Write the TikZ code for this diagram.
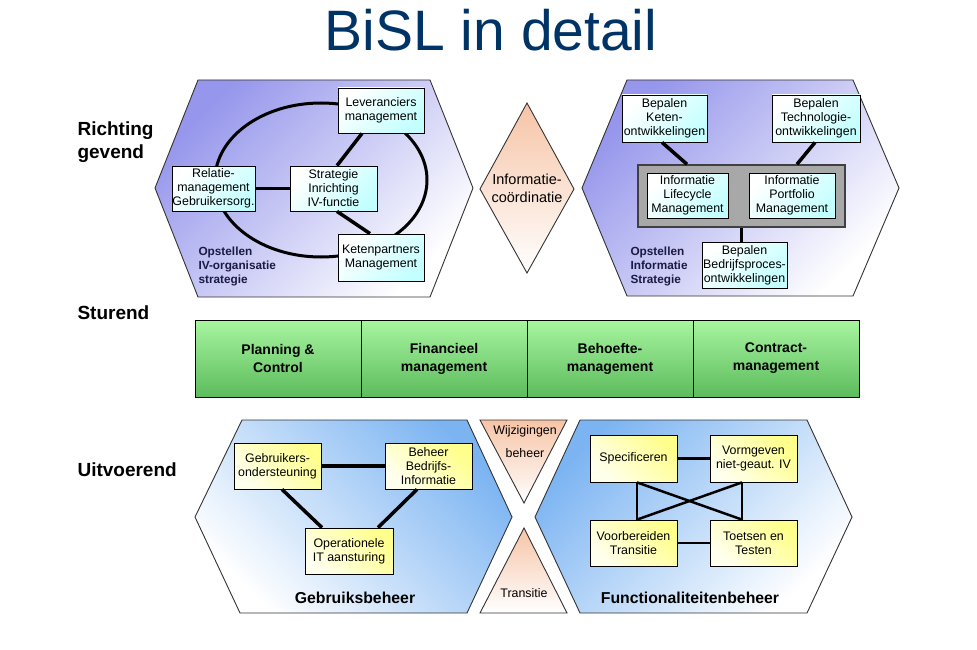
\documentclass[tikz,border=0pt]{standalone}
\usepackage{fontspec}
\setmainfont{Liberation Sans}
\usetikzlibrary{calc}
\definecolor{titleblue}{HTML}{003366}
\definecolor{lilac}{HTML}{9696EC}
\definecolor{skyblue}{HTML}{7CB4F2}
\definecolor{peach}{HTML}{F6C4A6}
\definecolor{cyanbox}{HTML}{C4FFFF}
\definecolor{yelbox}{HTML}{FFFF8C}
\definecolor{greentop}{HTML}{A8F5A0}
\definecolor{greenbot}{HTML}{5CBC5C}
\definecolor{navytext}{HTML}{1A1A44}
\definecolor{hexline}{HTML}{333333}
\definecolor{grayfill}{HTML}{A8A8A8}
\newcommand\bxfont{\fontsize{12.4}{14}\selectfont}
\tikzset{
  hexa/.style={draw=hexline, line width=0.9pt},
  wbox/.style={draw=black, line width=0.8pt, align=center, inner sep=0pt, font=\bxfont, text=black},
  cbox/.style={wbox, top color=white, bottom color=cyanbox, shading angle=45},
  ybox/.style={wbox, top color=yelbox, bottom color=yelbox!15, shading angle=-45},
  gcell/.style={draw=black, line width=0.8pt, minimum width=166pt, minimum height=77pt, inner sep=0pt,
    top color=greentop, bottom color=greenbot, align=center, font=\bfseries\fontsize{14}{18}\selectfont},
  conn/.style={line width=3.5pt, line cap=butt},
  thinconn/.style={line width=2.5pt},
  sidelbl/.style={anchor=west, align=left, font=\bfseries\fontsize{19}{23}\selectfont},
  sublbl/.style={anchor=west, align=left, text=navytext, font=\bfseries\fontsize{11.8}{14}\selectfont},
  hexlbl/.style={font=\bfseries\fontsize{15.8}{18}\selectfont}
}
\begin{document}
\begin{tikzpicture}[x=1pt, y=-1pt]
\useasboundingbox (0,0) rectangle (977,650);
\fill[white] (0,0) rectangle (977,650);

% title
\node[font=\fontsize{57}{60}\selectfont, text=titleblue, anchor=base] (title) at (491,51) {BiSL in detail};

% side labels
\node[sidelbl] (richting) at (74,142) {Richting\\gevend};
\node[sidelbl] (sturend) at (74,313) {Sturend};
\node[sidelbl] (uitvoerend) at (74,470) {Uitvoerend};

% ---------- top-left hexagon
\path[hexa, top color=lilac, bottom color=white, shading angle=45]
  (198,80) -- (430,80) -- (473,188) -- (430,297) -- (198,297) -- (155,188) -- cycle;
\draw[line width=3pt] (321,180) ellipse [x radius=106, y radius=77];
\node[cbox, minimum width=86pt, minimum height=45pt] (lev) at (381,110.5) {Leveranciers\\management};
\node[cbox, minimum width=83pt, minimum height=45pt] (rel) at (213.5,188.5) {Relatie-\\management\\Gebruikersorg.};
\node[cbox, minimum width=87pt, minimum height=45pt] (str) at (333.5,188.5) {Strategie\\Inrichting\\IV-functie};
\node[cbox, minimum width=86pt, minimum height=47pt] (ket) at (381,257.5) {Ketenpartners\\Management};
\draw[conn] (rel.east) -- (str.west);
\draw[conn] ([xshift=3.5pt]str.north) -- ([xshift=-19pt]lev.south);
\draw[conn] ([xshift=3.5pt]str.south) -- ([xshift=-11pt]ket.north);
\node[sublbl] (opiv) at (195,266) {Opstellen\\IV-organisatie\\strategie};

% ---------- diamond
\path[hexa, top color=peach, bottom color=white] (527,103) -- (574,189) -- (527,273) -- (480,189) -- cycle;
\node[align=center, font=\fontsize{14.5}{18}\selectfont] (ic) at (527,188) {Informatie-\\coördinatie};

% ---------- top-right hexagon
\path[hexa, top color=lilac, bottom color=white, shading angle=45]
  (627,80) -- (853,80) -- (899,188) -- (853,296) -- (627,296) -- (582,188) -- cycle;
\node[cbox, minimum width=85pt, minimum height=47pt] (bk) at (664.5,118.5) {Bepalen\\Keten-\\ontwikkelingen};
\node[cbox, minimum width=88pt, minimum height=47pt] (bt) at (816,118.5) {Bepalen\\Technologie-\\ontwikkelingen};
\node[draw=black!75, line width=1.5pt, fill=grayfill, minimum width=207pt, minimum height=62pt] (gray) at (741.5,196) {};
\node[cbox, minimum width=81pt, minimum height=45pt] (ilm) at (687.5,195.5) {Informatie\\Lifecycle\\Management};
\node[cbox, minimum width=86pt, minimum height=45pt] (ipm) at (792,195.5) {Informatie\\Portfolio\\Management};
\node[cbox, minimum width=85pt, minimum height=46pt] (bb) at (744.5,265) {Bepalen\\Bedrijfsproces-\\ontwikkelingen};
\draw[conn] ([xshift=-2.5pt]bk.south) -- ([xshift=-54.5pt]gray.north);
\draw[conn] ([xshift=-1pt]bt.south) -- ([xshift=55.5pt]gray.north);
\draw[conn] (gray.south) -- (gray.south |- bb.north);
\node[sublbl] (opis) at (627,266) {Opstellen\\Informatie\\Strategie};

% ---------- green bar
\node[gcell] (pc) at (278,358.5) {Planning \&\\Control};
\node[gcell] (fm) at (444,358.5) {Financieel\\management};
\node[gcell] (bm) at (610,358.5) {Behoefte-\\management};
\node[gcell] (cm) at (776,358.5) {Contract-\\management};

% ---------- bottom-left hexagon
\path[hexa, top color=skyblue, bottom color=white, shading angle=-45]
  (242,420) -- (467,420) -- (512,517) -- (467,613) -- (240,613) -- (195,517) -- cycle;
\node[ybox, minimum width=87pt, minimum height=46pt] (gbo) at (277.5,466) {Gebruikers-\\ondersteuning};
\node[ybox, minimum width=87pt, minimum height=46pt] (bbi) at (428.5,466) {Beheer\\Bedrijfs-\\Informatie};
\node[ybox, minimum width=88pt, minimum height=46pt] (oit) at (349,551) {Operationele\\IT aansturing};
\draw[conn] (gbo.east) -- (bbi.west);
\draw[conn] ([xshift=4.5pt]gbo.south) -- ([xshift=-27pt]oit.north);
\draw[conn] ([xshift=-11.5pt]bbi.south) -- ([xshift=29pt]oit.north);
\node[hexlbl] (gb) at (355,598) {Gebruiksbeheer};

% ---------- middle triangles
\path[hexa, top color=peach, bottom color=white] (480,420) -- (567,420) -- (524,503) -- cycle;
\node[align=center, font=\fontsize{12.4}{23}\selectfont] (wb) at (525,441.5) {Wijzigingen\\beheer};
\path[hexa, top color=peach, bottom color=white] (524,528) -- (567,613) -- (480,613) -- cycle;
\node[font=\fontsize{12.4}{14}\selectfont] (tr) at (524,593) {Transitie};

% ---------- bottom-right hexagon
\path[hexa, top color=skyblue, bottom color=white, shading angle=45]
  (580,420) -- (807,420) -- (852,517) -- (807,613) -- (580,613) -- (535,517) -- cycle;
\node[ybox, minimum width=87pt, minimum height=47pt] (spc) at (633.5,458.5) {Specificeren};
\node[ybox, minimum width=87pt, minimum height=47pt] (vrm) at (753.5,458.5) {Vormgeven\\niet-geaut. IV};
\node[ybox, minimum width=87pt, minimum height=46pt] (vbt) at (633.5,543) {Voorbereiden\\Transitie};
\node[ybox, minimum width=87pt, minimum height=46pt] (tet) at (753.5,543) {Toetsen en\\Testen};
\draw[thinconn] (spc.east) -- (vrm.west);
\draw[thinconn] (vbt.east) -- (tet.west);
\draw[thinconn] ([xshift=3.5pt]spc.south) -- ([xshift=3.5pt]vbt.north);
\draw[thinconn] ([xshift=-11.5pt]vrm.south) -- ([xshift=-11.5pt]tet.north);
\draw[thinconn] ([xshift=3.5pt]spc.south) -- ([xshift=-11.5pt]tet.north);
\draw[thinconn] ([xshift=-11.5pt]vrm.south) -- ([xshift=3.5pt]vbt.north);
\node[hexlbl] (fb) at (690,598) {Functionaliteitenbeheer};
\end{tikzpicture}
\end{document}
